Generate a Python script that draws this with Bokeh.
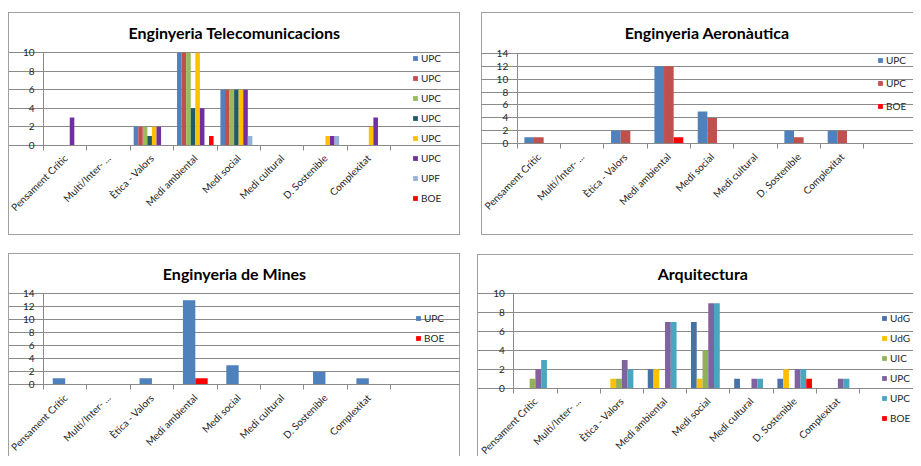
from math import pi
from bokeh.plotting import figure
from bokeh.models import ColumnDataSource, FixedTicker, Range1d, Legend, LegendItem, Label
from bokeh.transform import dodge
from bokeh.layouts import row, column
from bokeh.embed import file_html
from bokeh.resources import INLINE

categories = ["Pensament Crític", "Multi/Inter- ...", "Ètica - Valors", "Medi ambiental",
              "Medi social", "Medi cultural", "D. Sostenible", "Complexitat"]

# Enginyeria Telecomunicacions
tel_names = ["UPC", "UPC", "UPC", "UPC", "UPC", "UPC", "UPF", "BOE"]
tel_upc_1 = [0, 0, 2, 10, 6, 0, 0, 0]
tel_upc_2 = [0, 0, 2, 10, 6, 0, 0, 0]
tel_upc_3 = [0, 0, 2, 10, 6, 0, 0, 0]
tel_upc_4 = [0, 0, 1, 4, 6, 0, 0, 0]
tel_upc_5 = [0, 0, 2, 10, 6, 0, 1, 2]
tel_upc_6 = [3, 0, 2, 4, 6, 0, 1, 3]
tel_upf = [0, 0, 0, 0, 1, 0, 1, 0]
tel_boe = [0, 0, 0, 1, 0, 0, 0, 0]
tel_colors = ["#4F81BD", "#C0504D", "#9BBB59", "#215967", "#FFC000", "#7030A0", "#95B3D7", "#FF0000"]

# Enginyeria Aeronàutica
aer_names = ["UPC", "UPC", "BOE"]
aer_upc_1 = [1, 0, 2, 12, 5, 0, 2, 2]
aer_upc_2 = [1, 0, 2, 12, 4, 0, 1, 2]
aer_boe = [0, 0, 0, 1, 0, 0, 0, 0]
aer_colors = ["#4F81BD", "#C0504D", "#FF0000"]

# Enginyeria de Mines
min_names = ["UPC", "BOE"]
min_upc = [1, 0, 1, 13, 3, 0, 2, 1]
min_boe = [0, 0, 0, 1, 0, 0, 0, 0]
min_colors = ["#4F81BD", "#FF0000"]

# Arquitectura
arq_names = ["UdG", "UdG", "UIC", "UPC", "UPC", "BOE"]
arq_udg_1 = [0, 0, 0, 2, 7, 1, 1, 0]
arq_udg_2 = [0, 0, 1, 2, 1, 0, 2, 0]
arq_uic = [1, 0, 1, 0, 4, 0, 0, 0]
arq_upc_1 = [2, 0, 3, 7, 9, 1, 2, 1]
arq_upc_2 = [3, 0, 2, 7, 9, 1, 2, 1]
arq_boe = [0, 0, 0, 0, 0, 0, 1, 0]
arq_colors = ["#4672AA", "#FFC000", "#93B156", "#7F63A1", "#4AA5C0", "#FF0000"]

GRID = "#8a8a8a"
BORDER = "#a0a0a0"
FONT = "Lato"
TXT = "#262626"


def panel(title, names, colors, series, ymax, W, H, pl, pw, pt, ph,
          leg_x, leg_y, leg_spacing, title_cx, title_cy, margin, shadow):
    ncat = len(categories)
    # whole figure box is the frame; the plot area (0..ncat, 0..ymax) sits inside it
    xs = -pl / pw * ncat
    xe = ncat + (W - pl - pw) / pw * ncat
    ys = -(H - pt - ph) / ph * ymax
    ye = ymax + pt / ph * ymax
    p = figure(width=W, height=H, x_range=Range1d(xs, xe), y_range=Range1d(ys, ye),
               output_backend="svg", toolbar_location=None,
               min_border_left=0, min_border_right=0, min_border_top=0, min_border_bottom=0,
               border_fill_color=None, background_fill_color=None, outline_line_color=None,
               margin=margin, styles={"box-shadow": shadow})
    n = len(series)
    w = 1.0 / (n + 1.5)
    data = {"x": list(range(ncat))}
    for k, s in enumerate(series):
        data[f"s{k}"] = s
    src = ColumnDataSource(data)
    items = []
    for k in range(n):
        r = p.vbar(x=dodge("x", (0.75 + k + 0.5) * w), top=f"s{k}", width=w, source=src,
                   fill_color=colors[k], line_color=None)
        items.append(LegendItem(label=names[k], renderers=[r]))
    leg = Legend(items=items, location=(leg_x, leg_y), glyph_width=6, glyph_height=6,
                 label_height=13, label_standoff=3, spacing=leg_spacing, padding=0, margin=0,
                 border_line_color=None, background_fill_color=None,
                 label_text_font=FONT, label_text_font_size="10px", label_text_color=TXT)
    p.add_layout(leg, "center")

    xa = p.xaxis[0]
    xa.fixed_location = 0
    xa.bounds = (0, ncat)
    xa.ticker = FixedTicker(ticks=[i + 0.5 for i in range(ncat)],
                            minor_ticks=list(range(ncat + 1)))
    xa.major_label_overrides = {i + 0.5: c for i, c in enumerate(categories)}
    xa.major_tick_out = 0
    xa.major_tick_in = 0
    xa.minor_tick_out = 5
    xa.minor_tick_in = 0
    xa.minor_tick_line_color = GRID
    xa.axis_line_color = GRID
    xa.major_label_orientation = pi / 4
    xa.major_label_standoff = 6
    xa.major_label_text_font = FONT
    xa.major_label_text_font_size = "10px"
    xa.major_label_text_color = TXT

    ya = p.yaxis[0]
    ya.fixed_location = 0
    ya.bounds = (0, ymax)
    ya.ticker = FixedTicker(ticks=list(range(0, ymax + 1, 2)))
    ya.major_tick_out = 0
    ya.major_tick_in = 0
    ya.minor_tick_out = 0
    ya.minor_tick_in = 0
    ya.axis_line_color = GRID
    ya.major_label_standoff = 9
    ya.major_label_text_font = FONT
    ya.major_label_text_font_size = "10px"
    ya.major_label_text_color = TXT

    p.xgrid.visible = False
    p.ygrid.grid_line_color = GRID
    p.ygrid.bounds = (0, ncat)

    tx = xs + title_cx / W * (xe - xs)
    ty = ye - title_cy / H * (ye - ys)
    p.add_layout(Label(x=tx, y=ty, text=title, text_font=FONT, text_font_style="bold",
                       text_font_size="16px", text_align="center", text_baseline="middle",
                       text_color="#000000"))
    return p


f1 = panel("Enginyeria Telecomunicacions", tel_names, tel_colors,
           [tel_upc_1, tel_upc_2, tel_upc_3, tel_upc_4, tel_upc_5, tel_upc_6, tel_upf, tel_boe],
           10, 452, 223, 35, 347, 40.3, 92.4, 404, 31, 7, 226, 20, (12, 0, 0, 8),
           f"inset 0 0 0 1px {BORDER}")
f2 = panel("Enginyeria Aeronàutica", aer_names, aer_colors, [aer_upc_1, aer_upc_2, aer_boe],
           14, 432, 223, 35.7, 346.6, 40.7, 90.6, 396, 123, 10, 225.7, 20, (12, 0, 0, 21),
           f"inset 1px 1px 0 0 {BORDER}, inset 0 -1px 0 0 {BORDER}")
f3 = panel("Enginyeria de Mines", min_names, min_colors, [min_upc, min_boe],
           14, 452, 203, 35, 347, 40.3, 91, 407, 112, 7, 226, 20.3, (18, 0, 0, 8),
           f"inset 1px 1px 0 0 {BORDER}, inset -1px 0 0 0 {BORDER}")
f4 = panel("Arquitectura", arq_names, arq_colors,
           [arq_udg_1, arq_udg_2, arq_uic, arq_upc_1, arq_upc_2, arq_boe],
           10, 436, 202, 36.3, 345.7, 39.3, 94.4, 404, 32, 7, 225.3, 19.3, (19, 0, 0, 17),
           f"inset 1px 1px 0 0 {BORDER}")

layout = column(row(f1, f2), row(f3, f4))
open("out.html", "w").write(file_html(layout, INLINE))
